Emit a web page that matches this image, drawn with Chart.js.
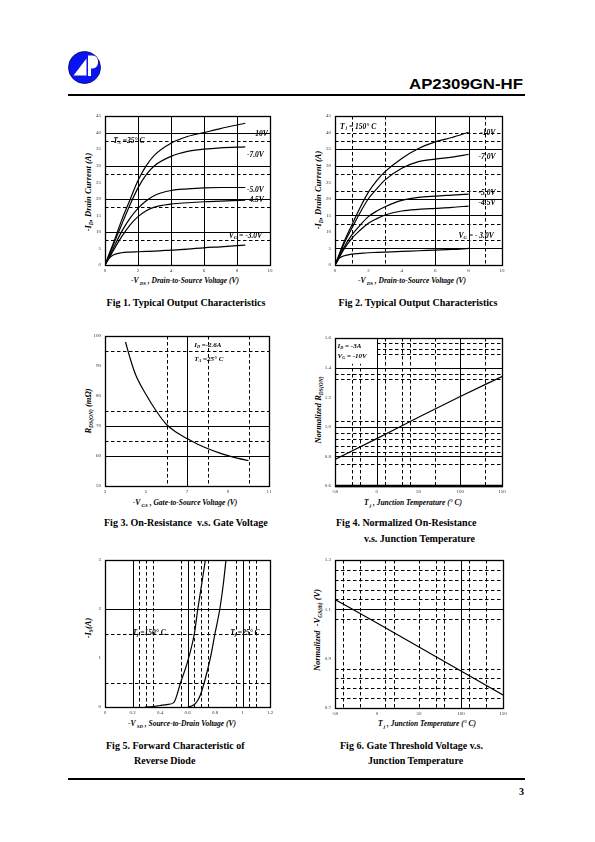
<!DOCTYPE html>
<html>
<head>
<meta charset="utf-8">
<script src="https://cdn.jsdelivr.net/npm/chart.js@4.4.0/dist/chart.umd.min.js"></script>
<style>
  body { margin: 0; width: 595px; height: 842px; background: #fff; position: relative; overflow: hidden; }
  canvas { position: absolute; }
  .cap { position: absolute; font: bold 10px "Liberation Serif"; line-height: 10px; white-space: nowrap; color: #000; }
  .ctr { transform: translateX(-50%); }
  .xt, .yt { position: absolute; font: italic bold 7.5px "Liberation Serif"; line-height: 8px; white-space: nowrap; color: #000; }
  .yt { font-size: 8.5px; }
  .xt { transform: translate(-50%, -50%); }
  .yt { transform: translate(-50%, -50%) rotate(-90deg); }
  sub { font-size: 65%; vertical-align: -1.5px; line-height: 0; }
  .rule { position: absolute; background: #000; }
</style>
</head>
<body>

<svg style="position:absolute;left:0;top:0" width="595" height="120">
  <circle cx="84.5" cy="67.5" r="16" fill="#0a14f0" stroke="#000060" stroke-width="0.8"/>
  <path d="M73.5 75.5 L86.5 58.5 L86.5 75.5 Z" fill="#fff"/>
  <path d="M88 55.5 L92.5 55.5 C100 55.5 100 68.5 92.5 68.5 L91 68.5 L91 76 L88 76 Z" fill="#fff"/>
</svg>
<div style="position:absolute;right:72px;top:76px;font:bold 14px 'Liberation Sans';transform:scaleX(1.2);transform-origin:right;">AP2309GN-HF</div>
<div class="rule" style="left:68px;top:94px;width:457px;height:2px"></div>

<div class="xt" style="left:185px;top:281px">-V<sub> DS</sub> , Drain-to-Source Voltage (V)</div>
<div class="yt" style="left:88px;top:192px">-I<sub>D</sub>, Drain Current (A)</div>
<div class="xt" style="left:412px;top:281px">-V<sub> DS</sub> , Drain-to-Source Voltage (V)</div>
<div class="yt" style="left:318px;top:190px">-I<sub>D</sub>, Drain Current (A)</div>
<div class="cap ctr" style="left:186px;top:298px">Fig 1. Typical Output Characteristics</div>
<div class="cap ctr" style="left:418px;top:298px">Fig 2. Typical Output Characteristics</div>

<div class="xt" style="left:185px;top:503px">-V<sub> GS</sub> , Gate-to-Source Voltage (V)</div>
<div class="yt" style="left:88px;top:411px">R<sub>DS(ON)</sub> (m&Omega;)</div>
<div class="xt" style="left:413px;top:503px">T<sub> j</sub> , Junction Temperature (&deg; C)</div>
<div class="yt" style="left:318px;top:410px">Normalized R<sub>DS(ON)</sub></div>
<div class="cap" style="left:104px;top:518px">Fig 3. On-Resistance &nbsp;v.s. Gate Voltage</div>
<div class="cap" style="left:336px;top:518px">Fig 4. Normalized On-Resistance</div>
<div class="cap" style="left:364px;top:534px">v.s. Junction Temperature</div>

<div class="xt" style="left:182px;top:724px">-V<sub> SD</sub> , Source-to-Drain Voltage (V)</div>
<div class="yt" style="left:88px;top:628px">-I<sub>S</sub>(A)</div>
<div class="xt" style="left:427px;top:724px">T<sub> j</sub> , Junction Temperature (&deg; C)</div>
<div class="yt" style="left:317px;top:630px">Normalized &nbsp;-V<sub>GS(th)</sub> (V)</div>
<div class="cap" style="left:106px;top:741px">Fig 5. Forward Characteristic of</div>
<div class="cap" style="left:134px;top:756px">Reverse Diode</div>
<div class="cap" style="left:340px;top:741px">Fig 6. Gate Threshold Voltage v.s.</div>
<div class="cap" style="left:368px;top:756px">Junction Temperature</div>

<div class="rule" style="left:68px;top:778px;width:457px;height:1.5px"></div>
<div class="cap" style="left:519px;top:787px">3</div>

<script>
// ---------- Fig 1: output characteristics, Ta = 25 C ----------
const fig1Vds = [0, 0.25, 0.5, 1, 1.5, 2, 2.5, 3, 4, 5, 6, 7, 8.5];
const fig1Id10 = [0, 3.3, 6.5, 13.4, 19.5, 25.5, 30, 33.2, 36.8, 38.8, 40, 41.2, 42.8];
const fig1Id7 = [0, 3, 6, 12.1, 18, 23.3, 27.3, 30, 32.8, 34.3, 35, 35.4, 35.7];
const fig1Id5 = [0, 2.5, 5, 10, 14, 17.1, 19.4, 21, 22.5, 23, 23.3, 23.4, 23.4];
const fig1Id45 = [0, 2.2, 4.3, 8.5, 12, 14.6, 16.4, 17.5, 18.4, 18.8, 19.1, 19.3, 19.6];
const fig1Id3 = [0, 2.0, 3.0, 3.7, 3.9, 4.0, 4.1, 4.2, 4.5, 4.8, 5.2, 5.5, 6.0];
const fig1XTicks = [0, 2, 4, 6, 8, 10];
const fig1YTicks = [0, 5, 10, 15, 20, 25, 30, 35, 40, 45];
const fig1GridX = [2, 4, 6, 8];
const fig1GridY = [10, 20, 30, 40];
const fig1DashY = [7.5, 17.5, 27.5, 37.5];

// ---------- Fig 2: output characteristics, Tj = 150 C ----------
const fig2Vds = [0, 0.25, 0.5, 1, 1.5, 2, 2.5, 3, 4, 5, 6, 7, 8];
const fig2Id10 = [0, 3.2, 6.5, 12, 17.3, 22, 25.5, 28.2, 32.2, 35.2, 37.2, 38.5, 40.1];
const fig2Id7 = [0, 3, 6, 11, 15.8, 20, 23, 25.7, 29.2, 31.2, 32, 32.6, 33.4];
const fig2Id5 = [0, 2.5, 5, 9, 12, 14.6, 16.3, 17.6, 19.5, 20.4, 20.8, 21.1, 21.4];
const fig2Id45 = [0, 2.2, 4.5, 8, 10.5, 12.6, 14, 15.1, 16.3, 16.8, 17.1, 17.4, 17.8];
const fig2Id3 = [0, 2.0, 2.7, 3.3, 3.5, 3.7, 3.8, 3.9, 4.1, 4.3, 4.5, 4.7, 5.0];
const fig2XTicks = [0, 2, 4, 6, 8, 10];
const fig2YTicks = [0, 5, 10, 15, 20, 25, 30, 35, 40, 45];
const fig2GridX = [6, 8];
const fig2DashX = [1, 3, 9];
const fig2GridY = [5, 15, 20, 30, 35];
const fig2DashY = [7.5, 12.5, 22.5, 27.5, 37.5, 40];

// ---------- Fig 3: on-resistance vs gate voltage ----------
const fig3Vgs = [4, 4.25, 4.5, 5, 5.5, 6, 6.5, 7, 7.5, 8, 8.5, 9, 9.5, 10];
const fig3Rds = [98, 92, 87, 80.5, 75, 70.5, 67.8, 65.8, 64, 62.5, 61.2, 60.1, 59.2, 58.5];
const fig3XTicks = [3, 5, 7, 9, 11];
const fig3YTicks = [50, 60, 70, 80, 90, 100];
const fig3GridX = [7];
const fig3DashX = [6, 8, 10];
const fig3GridY = [60, 70];
const fig3DashY = [65, 75, 95];

// ---------- Fig 4: normalized Rds(on) vs Tj ----------
const fig4Tj = [-50, 0, 50, 100, 150];
const fig4Rn = [0.78, 0.92, 1.065, 1.205, 1.34];
const fig4XTicks = [-50, 0, 50, 100, 150];
const fig4YTicks = [0.6, 0.8, 1.0, 1.2, 1.4, 1.6];
const fig4GridX = [0, 100];
const fig4DashX = [-30, -20, 10, 30, 40, 70, 130];
const fig4GridY = [0.8, 1.0, 1.4];
const fig4DashY = [0.75, 0.83, 0.87, 0.915, 0.955, 1.04, 1.32, 1.357, 1.49, 1.528, 1.568];

// ---------- Fig 5: reverse diode forward characteristic ----------
const fig5Vsd150 = [0.29, 0.35, 0.4, 0.45, 0.5, 0.55, 0.6, 0.65, 0.675, 0.7, 0.73];
const fig5Is150 = [0, 0.01, 0.03, 0.05, 0.09, 0.5, 0.92, 1.5, 2.0, 2.45, 3.0];
const fig5Vsd25 = [0.6, 0.63, 0.66, 0.69, 0.72, 0.745, 0.77, 0.8, 0.835, 0.86, 0.88];
const fig5Is25 = [0, 0.02, 0.08, 0.22, 0.48, 0.75, 1.05, 1.5, 2.0, 2.5, 3.0];
const fig5XTicks = [0, 0.2, 0.4, 0.6, 0.8, 1, 1.2];
const fig5YTicks = [0, 1, 2, 3];
const fig5GridX = [0.2, 0.6, 1.0];
const fig5DashX = [0.25, 0.3, 0.35, 0.55, 0.65, 0.7, 0.75, 0.95, 1.05, 1.1];
const fig5GridY = [2];
const fig5DashY = [0.5, 1.5];

// ---------- Fig 6: gate threshold vs Tj ----------
const fig6Tj = [-50, 0, 50, 100, 150];
const fig6Vth = [1.14, 1.045, 0.947, 0.85, 0.753];
const fig6XTicks = [-50, 0, 50, 100, 150];
const fig6YTicks = [0.7, 0.9, 1.1, 1.3];
const fig6GridX = [100];
const fig6DashX = [-40, -20, 10, 20, 50, 70, 80, 110, 130];
const fig6GridY = [1.1];
const fig6DashY = [0.74, 0.78, 0.82, 0.86, 1.06, 1.14, 1.18, 1.22, 1.26];

const DASH = [3.5, 2.5];
const extras = {};

function richParts(s) {
    const out = [];
    s.split(/(_\{[^}]*\})/).forEach(p => {
        if (!p) return;
        if (p.startsWith("_{")) out.push({ t: p.slice(2, -1), sub: true });
        else out.push({ t: p, sub: false });
    });
    return out;
}

function drawRich(ctx, s, x, y, size) {
    let cx = x;
    richParts(s).forEach(p => {
        const fs = p.sub ? size * 0.62 : size;
        ctx.font = `italic bold ${fs}px "Liberation Serif"`;
        ctx.fillText(p.t, cx, y + (p.sub ? size * 0.22 : 0));
        cx += ctx.measureText(p.t).width;
    });
}

const framePlugin = {
    id: "frame",
    beforeDatasetsDraw(chart) {
        const ex = extras[chart.canvas.id];
        const { ctx, chartArea: a, scales: { x, y } } = chart;
        ctx.save();
        ctx.strokeStyle = "#000";
        ctx.lineWidth = 1;
        const vline = (v, dashed) => {
            const px = Math.round(x.getPixelForValue(v)) + 0.5;
            ctx.setLineDash(dashed ? DASH : []);
            ctx.beginPath(); ctx.moveTo(px, a.top); ctx.lineTo(px, a.bottom); ctx.stroke();
        };
        const hline = (v, dashed) => {
            const py = Math.round(y.getPixelForValue(v)) + 0.5;
            ctx.setLineDash(dashed ? DASH : []);
            ctx.beginPath(); ctx.moveTo(a.left, py); ctx.lineTo(a.right, py); ctx.stroke();
        };
        (ex.dashX || []).forEach(v => vline(v, true));
        (ex.dashY || []).forEach(v => hline(v, true));
        (ex.gridX || []).forEach(v => vline(v, false));
        (ex.gridY || []).forEach(v => hline(v, false));
        (ex.masks || []).forEach(m => {
            const x0 = x.getPixelForValue(m[0]), x1 = x.getPixelForValue(m[2]);
            const y0 = y.getPixelForValue(m[1]), y1 = y.getPixelForValue(m[3]);
            ctx.fillStyle = "#fff";
            ctx.fillRect(x0, y0, x1 - x0, y1 - y0);
        });
        ctx.restore();
    },
    afterDatasetsDraw(chart) {
        const ex = extras[chart.canvas.id];
        const { ctx, chartArea: a, scales: { x, y } } = chart;
        ctx.save();
        ctx.strokeStyle = "#000";
        ctx.lineWidth = 1.3;
        ctx.setLineDash([]);
        ctx.strokeRect(a.left + 0.5, a.top + 0.5, a.right - a.left, a.bottom - a.top);
        if (ex.thickBottom) {
            ctx.lineWidth = 2.5;
            ctx.beginPath(); ctx.moveTo(a.left, a.bottom); ctx.lineTo(a.right + 1, a.bottom); ctx.stroke();
        }
        ctx.fillStyle = "#000";
        ctx.textBaseline = "middle";
        ctx.textAlign = "left";
        (ex.notes || []).forEach(n => {
            drawRich(ctx, n.text, x.getPixelForValue(n.x), y.getPixelForValue(n.y), n.size || 7.5);
        });
        ctx.restore();
    }
};

function curve(xs, ys) {
    return {
        data: xs.map((v, i) => ({ x: v, y: ys[i] })),
        showLine: true,
        borderColor: "#000",
        borderWidth: 1.2,
        pointRadius: 0,
        fill: false,
        cubicInterpolationMode: "monotone"
    };
}

function makeChart(id, box, xr, yr, xTicks, yTicks, fmtX, fmtY, datasets, ex) {
    const c = document.createElement("canvas");
    c.id = id;
    const W = box.r - box.l + 34, H = box.b - box.t + 20;
    c.width = W; c.height = H;
    c.style.width = W + "px"; c.style.height = H + "px";
    c.style.left = (box.l - 24) + "px";
    c.style.top = (box.t - 8) + "px";
    document.body.appendChild(c);
    extras[id] = ex;
    const tickFont = { size: 5, family: "Liberation Serif" };
    new Chart(c, {
        type: "scatter",
        data: { datasets },
        options: {
            responsive: false,
            animation: false,
            events: [],
            layout: { padding: { top: 8, right: 10, left: 0, bottom: 0 } },
            plugins: { legend: { display: false }, tooltip: { enabled: false } },
            scales: {
                x: {
                    type: "linear", min: xr[0], max: xr[1],
                    grid: { display: false, drawTicks: false }, border: { display: false },
                    afterBuildTicks: s => { s.ticks = xTicks.map(v => ({ value: v })); },
                    afterFit: s => { s.height = 12; },
                    ticks: { font: tickFont, color: "#333", padding: 3, maxRotation: 0, autoSkip: false, callback: fmtX }
                },
                y: {
                    type: "linear", min: yr[0], max: yr[1],
                    grid: { display: false, drawTicks: false }, border: { display: false },
                    afterBuildTicks: s => { s.ticks = yTicks.map(v => ({ value: v })); },
                    afterFit: s => { s.width = 24; },
                    ticks: { font: tickFont, color: "#333", padding: 4, autoSkip: false, callback: fmtY }
                }
            }
        },
        plugins: [framePlugin]
    });
}

const plain = v => String(v);
const oneDec = v => Number(v).toFixed(1);

makeChart("fig1", { l: 105, t: 116, r: 270, b: 265 }, [0, 10], [0, 45], fig1XTicks, fig1YTicks, plain, plain,
    [curve(fig1Vds, fig1Id10), curve(fig1Vds, fig1Id7), curve(fig1Vds, fig1Id5), curve(fig1Vds, fig1Id45), curve(fig1Vds, fig1Id3)],
    {
        gridX: fig1GridX, gridY: fig1GridY, dashY: fig1DashY,
        notes: [
            { x: 0.5, y: 37.5, text: "T_{A} =25° C" },
            { x: 8.95, y: 39.6, text: "-10V" },
            { x: 8.6, y: 33.2, text: "-7.0V" },
            { x: 8.6, y: 22.5, text: "-5.0V" },
            { x: 8.6, y: 19.6, text: "-4.5V" },
            { x: 7.5, y: 8.8, text: "V_{G} = -3.0V" }
        ]
    });

makeChart("fig2", { l: 335, t: 116, r: 502, b: 265 }, [0, 10], [0, 45], fig2XTicks, fig2YTicks, plain, plain,
    [curve(fig2Vds, fig2Id10), curve(fig2Vds, fig2Id7), curve(fig2Vds, fig2Id5), curve(fig2Vds, fig2Id45), curve(fig2Vds, fig2Id3)],
    {
        gridX: fig2GridX, dashX: fig2DashX, gridY: fig2GridY, dashY: fig2DashY,
        notes: [
            { x: 0.3, y: 41.8, text: "T_{ j} = 150° C" },
            { x: 8.7, y: 39.7, text: "-10V" },
            { x: 8.6, y: 32.7, text: "-7.0V" },
            { x: 8.6, y: 21.8, text: "-5.0V" },
            { x: 8.6, y: 18.6, text: "-4.5V" },
            { x: 7.4, y: 8.8, text: "V_{G} = - 3.0V" }
        ]
    });

makeChart("fig3", { l: 105, t: 336, r: 269, b: 486 }, [3, 11], [50, 100], fig3XTicks, fig3YTicks, plain, plain,
    [curve(fig3Vgs, fig3Rds)],
    {
        gridX: fig3GridX, dashX: fig3DashX, gridY: fig3GridY, dashY: fig3DashY,
        notes: [
            { x: 7.35, y: 97, text: "I_{D} =-2.6A", size: 7 },
            { x: 7.35, y: 92.2, text: "T_{A} =25° C", size: 7 }
        ]
    });

makeChart("fig4", { l: 335, t: 338, r: 502, b: 486 }, [-50, 150], [0.6, 1.6], fig4XTicks, fig4YTicks, plain, oneDec,
    [curve(fig4Tj, fig4Rn)],
    {
        gridX: fig4GridX, dashX: fig4DashX, gridY: fig4GridY, dashY: fig4DashY,
        masks: [[-50, 1.6, -1, 1.425]],
        thickBottom: true,
        notes: [
            { x: -47, y: 1.545, text: "I_{D} = -3A", size: 7 },
            { x: -47, y: 1.475, text: "V_{G} = -10V", size: 7 }
        ]
    });

makeChart("fig5", { l: 105, t: 560, r: 270, b: 707 }, [0, 1.2], [0, 3], fig5XTicks, fig5YTicks, plain, plain,
    [curve(fig5Vsd150, fig5Is150), curve(fig5Vsd25, fig5Is25)],
    {
        gridX: fig5GridX, dashX: fig5DashX, gridY: fig5GridY, dashY: fig5DashY,
        notes: [
            { x: 0.2, y: 1.5, text: "T_{j} =150° C" },
            { x: 0.91, y: 1.5, text: "T_{j} =25° C" }
        ]
    });

makeChart("fig6", { l: 335, t: 560, r: 503, b: 708 }, [-50, 150], [0.7, 1.3], fig6XTicks, fig6YTicks, plain, oneDec,
    [curve(fig6Tj, fig6Vth)],
    { gridX: fig6GridX, dashX: fig6DashX, gridY: fig6GridY, dashY: fig6DashY });
</script>
</body>
</html>
